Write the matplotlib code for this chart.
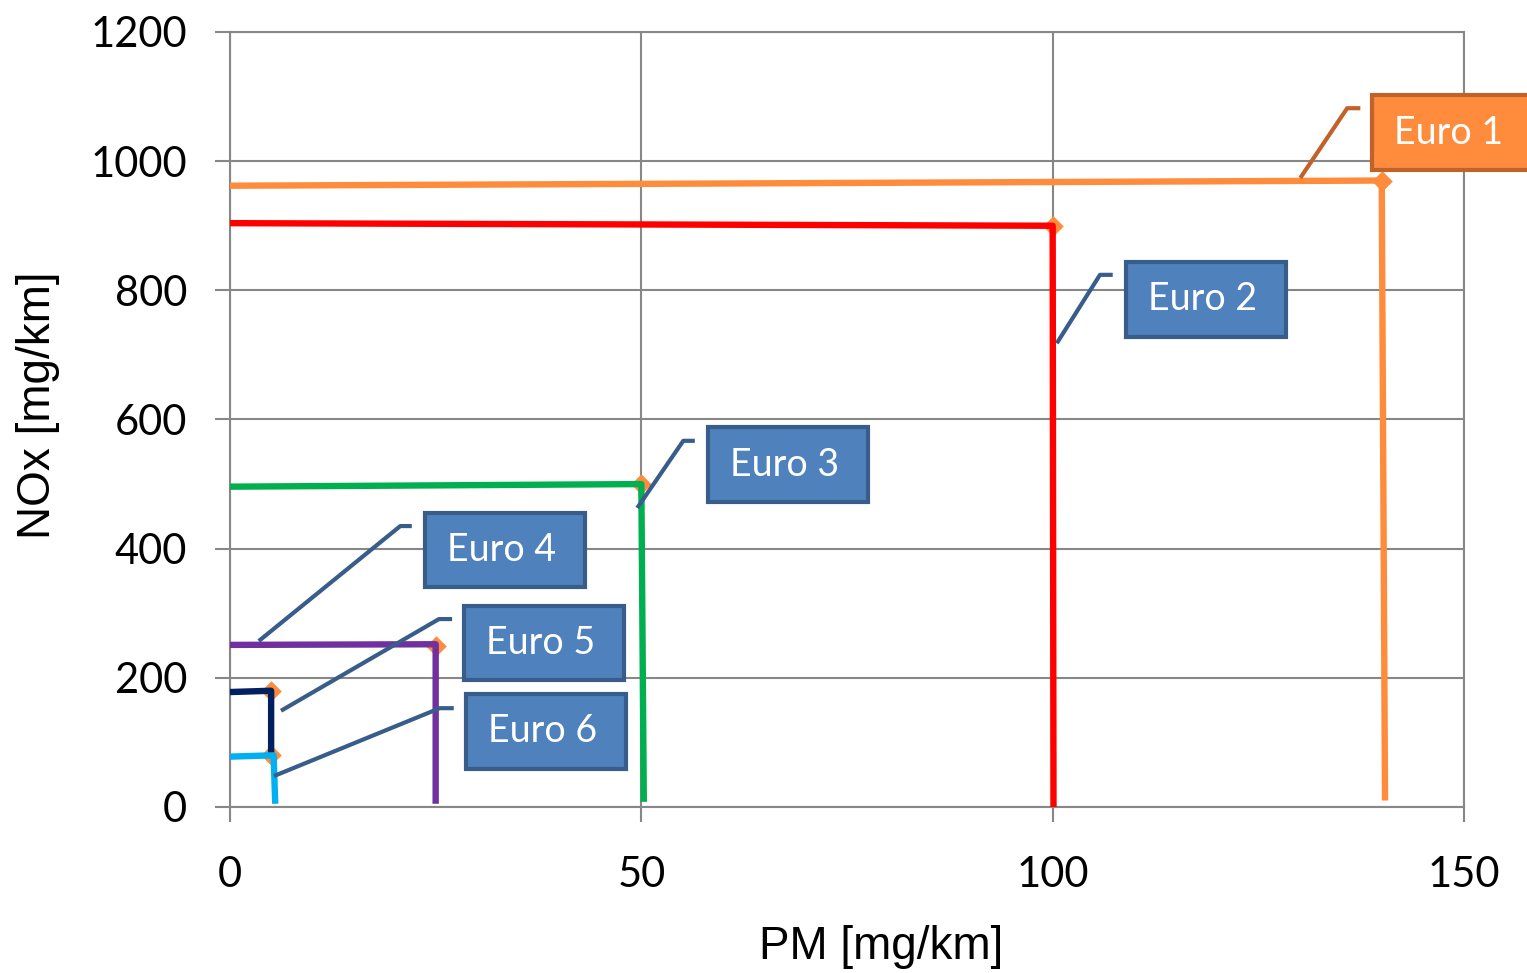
import matplotlib
matplotlib.use('Agg')
import matplotlib.pyplot as plt
from matplotlib.patches import Rectangle

# Euro emission limits
euro1_pm = [0, 140, 140.4]
euro1_nox = [962, 970, 10]
euro2_pm = [0, 100, 100.1]
euro2_nox = [904, 900, 0]
euro3_pm = [0, 50, 50.3]
euro3_nox = [496, 500, 8]
euro4_pm = [0, 25, 25]
euro4_nox = [251, 252, 5]
euro5_pm = [0, 5, 5]
euro5_nox = [178, 180, 80]
euro6_pm = [0, 5.3, 5.5]
euro6_nox = [78, 80, 5]

limit_pm = [140, 100, 50, 25, 5, 5]
limit_nox = [970, 900, 500, 250, 180, 80]

labels = ['Euro 1', 'Euro 2', 'Euro 3', 'Euro 4', 'Euro 5', 'Euro 6']
x_ticks = [0, 50, 100, 150]
y_ticks = [0, 200, 400, 600, 800, 1000, 1200]

series = [
    (euro1_pm, euro1_nox, '#FF8B3D'),
    (euro2_pm, euro2_nox, '#FF0000'),
    (euro3_pm, euro3_nox, '#00B050'),
    (euro4_pm, euro4_nox, '#7030A0'),
    (euro5_pm, euro5_nox, '#002060'),
    (euro6_pm, euro6_nox, '#00B0F0'),
]

# label boxes: centre (data units) and leader line (stub end, knee, tip)
box_centres = [(148.5, 1044), (118.6, 786), (67.8, 530), (33.4, 398), (38.2, 254), (38.4, 117)]
leaders = [
    [(137.4, 1082), (135.8, 1082), (130.1, 974)],
    [(107.3, 824), (105.75, 824), (100.5, 718)],
    [(56.5, 567), (55.1, 567), (49.5, 463)],
    [(22.1, 435), (20.7, 435), (3.5, 257)],
    [(27.0, 291), (25.4, 291), (6.2, 149)],
    [(27.2, 153), (25.5, 153), (5.35, 48)],
]
box_w, box_h = 19.45, 116

fig = plt.figure(figsize=(15.27, 9.73), dpi=100)
ax = fig.add_axes([230 / 1527, 166 / 973, 1234 / 1527, 775 / 973])

ax.scatter(limit_pm, limit_nox, marker='D', s=110, color='#FF8B3D', zorder=2, linewidths=0)
for xs, ys, c in series:
    ax.plot(xs, ys, color=c, lw=4.6, zorder=3, solid_capstyle='butt')

for i, lab in enumerate(labels):
    cx, cy = box_centres[i]
    if i == 0:
        fc, ec, lc = '#FF8B3D', '#C0622A', '#C0622A'
    else:
        fc, ec, lc = '#4F81BD', '#385D8A', '#385D8A'
    lx = [p[0] for p in leaders[i]]
    ly = [p[1] for p in leaders[i]]
    ax.plot(lx, ly, color=lc, lw=3, zorder=4, solid_capstyle='butt')
    ax.add_patch(Rectangle((cx - box_w / 2, cy - box_h / 2), box_w, box_h,
                           facecolor=fc, edgecolor=ec, lw=3, zorder=5, clip_on=False))
    ax.text(cx - 0.4, cy, lab, color='white', fontsize=27, family='Lato',
            ha='center', va='center', zorder=6, clip_on=False)

ax.set_xlim(0, 150)
ax.set_ylim(0, 1200)
ax.set_xticks(x_ticks)
ax.set_yticks(y_ticks)
ax.grid(True, color='#878787', lw=1.5, zorder=0)
ax.set_axisbelow(True)
for sp in ax.spines.values():
    sp.set_color('#878787')
    sp.set_linewidth(1.5)
ax.tick_params(axis='both', length=11, width=1.5, color='#878787',
               labelsize=30, labelfontfamily='Lato')
ax.tick_params(axis='y', pad=20)
ax.tick_params(axis='x', pad=24)

ax.set_xlabel('PM [mg/km]', fontsize=33, family='Liberation Sans')
ax.set_ylabel('NOx [mg/km]', fontsize=33, family='Liberation Sans')
ax.xaxis.set_label_coords(0.528, -0.181)
ax.yaxis.set_label_coords(-0.1556, 0.519)
ax.xaxis.label.set_va('center')
ax.yaxis.label.set_va('center')

fig.savefig('out.png', dpi=100)
